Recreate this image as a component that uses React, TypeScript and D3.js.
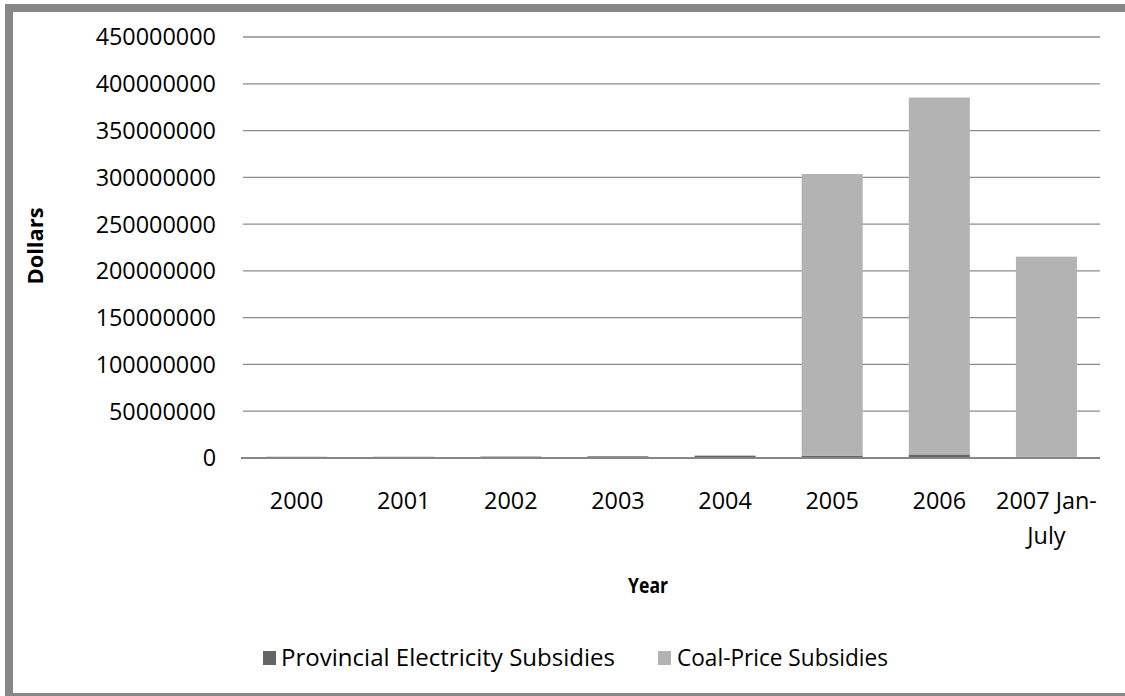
import React from "react";
import * as d3 from "d3";

const categories = ["2000", "2001", "2002", "2003", "2004", "2005", "2006", "2007 Jan-July"];
const provincial = [300000, 300000, 1500000, 1800000, 2500000, 2600000, 3800000, 1200000];
const coalPrice = [1200000, 1200000, 0, 0, 0, 301000000, 381500000, 214000000];
const yTicks = [0, 50000000, 100000000, 150000000, 200000000, 250000000, 300000000, 350000000, 400000000, 450000000];
const seriesNames = ["Provincial Electricity Subsidies", "Coal-Price Subsidies"];
const seriesColors = ["#646464", "#b3b3b3"];

const W = 1125;
const H = 696;
const plot = { left: 243, right: 1100, top: 37, bottom: 458 };
const font = "'Open Sans', sans-serif";

export default function App() {
  const x = d3.scaleBand<string>().domain(categories).range([plot.left, plot.right]).paddingInner(0.43).paddingOuter(0.215);
  const y = d3.scaleLinear().domain([0, 450000000]).range([plot.bottom, plot.top]);

  const rows = categories.map((c, i) => ({ cat: c, provincial: provincial[i], coal: coalPrice[i] }));
  const stacked = d3.stack<any>().keys(["provincial", "coal"])(rows);

  return (
    <svg width={W} height={H} style={{ position: "absolute", left: 0, top: 0, background: "#fff" }}>
      <rect x={9} y={8} width={1200} height={689} fill="#fff" stroke="#878787" strokeWidth={8} />
      {yTicks.map((t) => (
        <g key={t}>
          {t !== 0 && (
            <line x1={plot.left} x2={plot.right} y1={y(t)} y2={y(t)} stroke="#8c8c8c" strokeWidth={1.3} />
          )}
          <text x={216} y={y(t)} dy="0.36em" textAnchor="end" fontFamily={font} fontSize={23.4} fill="#000">
            {t}
          </text>
        </g>
      ))}
      {stacked.map((s, si) => (
        <g key={si} fill={seriesColors[si]}>
          {s.map((d: any, i: number) => {
            const h = y(d[0]) - y(d[1]);
            if (h <= 0) return null;
            return <rect key={i} x={x(categories[i])} y={y(d[1])} width={x.bandwidth()} height={h} />;
          })}
        </g>
      ))}
      <line x1={plot.left - 2} x2={plot.right} y1={y(0)} y2={y(0)} stroke="#868686" strokeWidth={2} />
      {categories.map((c) => {
        const cx = (x(c) as number) + x.bandwidth() / 2;
        const parts = c === "2007 Jan-July" ? ["2007 Jan-", "July"] : [c];
        return (
          <text key={c} x={cx} y={509} textAnchor="middle" fontFamily={font} fontSize={23.4} fill="#000">
            {parts.map((p, i) => (
              <tspan key={i} x={cx} dy={i === 0 ? 0 : 35}>{p}</tspan>
            ))}
          </text>
        );
      })}
      <text x={648} y={593} textAnchor="middle" fontFamily={font} fontSize={21} fontWeight="bold" textLength={40} lengthAdjust="spacingAndGlyphs">
        Year
      </text>
      <text transform={`translate(43,246) rotate(-90)`} textAnchor="middle" fontFamily={font} fontSize={21} fontWeight="bold" textLength={77} lengthAdjust="spacingAndGlyphs">
        Dollars
      </text>
      <g fontFamily={font} fontSize={23}>
        <rect x={263} y={651} width={13} height={14} fill={seriesColors[0]} />
        <text x={281} y={666} textLength={334} lengthAdjust="spacingAndGlyphs">{seriesNames[0]}</text>
        <rect x={658} y={651} width={13} height={14} fill={seriesColors[1]} />
        <text x={677} y={666} textLength={211} lengthAdjust="spacingAndGlyphs">{seriesNames[1]}</text>
      </g>
    </svg>
  );
}
